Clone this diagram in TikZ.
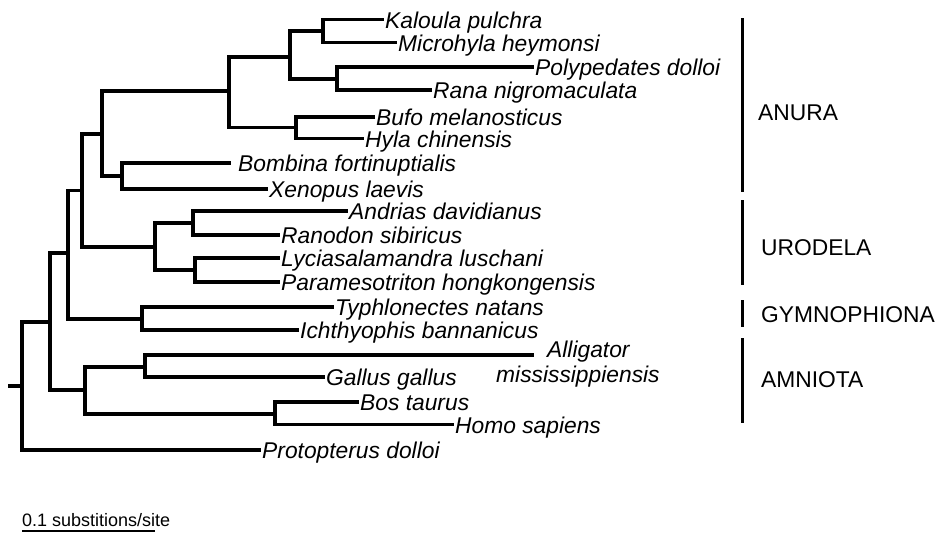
\documentclass[tikz,border=0pt]{standalone}
\usepackage{fontspec}
\setmainfont{Liberation Sans}
\begin{document}
\begin{tikzpicture}[x=1pt,y=-1pt,
  br/.style={line width=3.3pt, line join=miter, line cap=rect},
  clade/.style={line width=3pt},
  taxon/.style={anchor=west, inner xsep=3pt, inner ysep=0pt, text height=19pt, text depth=2pt,
     font=\fontsize{22.8}{26}\selectfont\itshape},
  freetxt/.style={anchor=base west, inner sep=0pt, font=\fontsize{22.8}{26}\selectfont\itshape},
  group/.style={anchor=west, inner sep=0pt, font=\fontsize{22.8}{26}\selectfont},
  scaletxt/.style={anchor=base west, inner sep=0pt, font=\fontsize{18}{20}\selectfont}]
\useasboundingbox (0,0) rectangle (940,533);

% taxa
\node[taxon] (kal) at (382,19.5) {Kaloula pulchra};
\node[taxon] (mic) at (395,42.5) {Microhyla heymonsi};
\node[taxon] (pol) at (532,67) {Polypedates dolloi};
\node[taxon] (ran) at (430,90) {Rana nigromaculata};
\node[taxon] (buf) at (373,117) {Bufo melanosticus};
\node[taxon] (hyl) at (362,138.5) {Hyla chinensis};
\node[taxon, inner xsep=9pt] (bom) at (229,163) {Bombina fortinuptialis};
\node[taxon] (xen) at (266,189) {Xenopus laevis};
\node[taxon] (and) at (346,211) {Andrias davidianus};
\node[taxon] (rno) at (278,235) {Ranodon sibiricus};
\node[taxon] (lyc) at (278,258) {Lyciasalamandra luschani};
\node[taxon] (par) at (278,282) {Paramesotriton hongkongensis};
\node[taxon] (typ) at (332,307) {Typhlonectes natans};
\node[taxon] (ich) at (297,330) {Ichthyophis bannanicus};
\coordinate (all) at (532,355);
\node[freetxt] (alla) at (547,357.5) {Alligator};
\node[freetxt] (allb) at (496,382.5) {mississippiensis};
\node[taxon] (gal) at (323,377) {Gallus gallus};
\node[taxon] (bos) at (357,402) {Bos taurus};
\node[taxon] (hom) at (452,424.5) {Homo sapiens};
\node[taxon] (pro) at (259,450) {Protopterus dolloi};

% internal nodes
\coordinate (nkm) at (323,31);
\coordinate (npr) at (337,79);
\coordinate (nkmpr) at (290,57);
\coordinate (nbh) at (296,127.5);
\coordinate (nfrog) at (229,91);
\coordinate (nbx) at (122,176);
\coordinate (nanura) at (102,134);
\coordinate (nar) at (193,223);
\coordinate (nlp) at (195,270);
\coordinate (nurod) at (155,247);
\coordinate (nbat1) at (82,190.5);
\coordinate (nti) at (142,319);
\coordinate (nbat) at (68,253);
\coordinate (nag) at (145,367);
\coordinate (nbh2) at (275,414);
\coordinate (namn) at (85,390);
\coordinate (ntet) at (50,322);
\coordinate (nroot) at (22,386);
\coordinate (stub) at (10,386);

% branches
\draw[br] (nkm) |- (kal.west);
\draw[br] (nkm) |- (mic.west);
\draw[br] (npr) |- (pol.west);
\draw[br] (npr) |- (ran.west);
\draw[br] (nkmpr) |- (nkm);
\draw[br] (nkmpr) |- (npr);
\draw[br] (nbh) |- (buf.west);
\draw[br] (nbh) |- (hyl.west);
\draw[br] (nfrog) |- (nkmpr);
\draw[br] (nfrog) |- (nbh);
\draw[br] (nbx) |- (bom.west);
\draw[br] (nbx) |- (xen.west);
\draw[br] (nanura) |- (nfrog);
\draw[br] (nanura) |- (nbx);
\draw[br] (nar) |- (and.west);
\draw[br] (nar) |- (rno.west);
\draw[br] (nlp) |- (lyc.west);
\draw[br] (nlp) |- (par.west);
\draw[br] (nurod) |- (nar);
\draw[br] (nurod) |- (nlp);
\draw[br] (nbat1) |- (nanura);
\draw[br] (nbat1) |- (nurod);
\draw[br] (nti) |- (typ.west);
\draw[br] (nti) |- (ich.west);
\draw[br] (nbat) |- (nbat1);
\draw[br] (nbat) |- (nti);
\draw[br] (nag) |- (all);
\draw[br] (nag) |- (gal.west);
\draw[br] (nbh2) |- (bos.west);
\draw[br] (nbh2) |- (hom.west);
\draw[br] (namn) |- (nag);
\draw[br] (namn) |- (nbh2);
\draw[br] (ntet) |- (nbat);
\draw[br] (ntet) |- (namn);
\draw[br] (nroot) |- (ntet);
\draw[br] (nroot) |- (pro.west);
\draw[br] (stub) -- (nroot);

% clade bars and labels
\coordinate (a1) at (742,18);  \coordinate (a2) at (742,192);
\coordinate (u1) at (742,200); \coordinate (u2) at (742,285);
\coordinate (g1) at (742,300); \coordinate (g2) at (742,327);
\coordinate (m1) at (742,338); \coordinate (m2) at (742,423);
\draw[clade] (a1) -- (a2);
\draw[clade] (u1) -- (u2);
\draw[clade] (g1) -- (g2);
\draw[clade] (m1) -- (m2);
\node[group] (anura) at (758,113) {ANURA};
\node[group] (urodela) at (761,248) {URODELA};
\node[group] (gymno) at (761,315) {GYMNOPHIONA};
\node[group] (amniota) at (761,380) {AMNIOTA};

% scale bar
\node[scaletxt] (sb) at (22,526) {0.1 substitions/site};
\coordinate (sbl) at (22,531);
\coordinate (sbr) at (155,531);
\draw[line width=1.8pt] (sbl) -- (sbr);
\end{tikzpicture}
\end{document}
